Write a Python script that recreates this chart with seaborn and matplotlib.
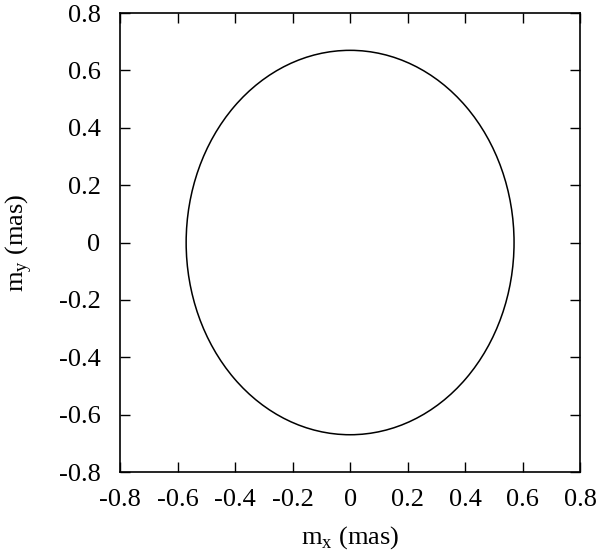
import seaborn as sb
import matplotlib.pyplot as plt
from matplotlib.patches import Ellipse

# ellipse (mas)
centre = (0.0, 0.0)
semi_x = 0.57
semi_y = 0.67
ticks = [-0.8, -0.6, -0.4, -0.2, 0, 0.2, 0.4, 0.6, 0.8]
tick_labels = ['-0.8', '-0.6', '-0.4', '-0.2', '0', '0.2', '0.4', '0.6', '0.8']

sb.set_style('ticks')
plt.rcParams['font.family'] = 'serif'
plt.rcParams['font.serif'] = ['Liberation Serif', 'Times New Roman', 'DejaVu Serif']
plt.rcParams['mathtext.fontset'] = 'custom'
plt.rcParams['mathtext.rm'] = 'Liberation Serif'
plt.rcParams['axes.labelcolor'] = 'black'

fig = plt.figure(figsize=(6, 5.55), dpi=100)
ax = fig.add_axes([0.2, 0.1495, 0.767, 0.827])

ell = Ellipse(xy=centre, width=2 * semi_x, height=2 * semi_y,
              fill=False, edgecolor='black', linewidth=1.1)
ax.add_patch(ell)

ax.set_xlim(-0.8, 0.8)
ax.set_ylim(-0.8, 0.8)
ax.set_xticks(ticks)
ax.set_xticklabels(tick_labels)
ax.set_yticks(ticks)
ax.set_yticklabels(tick_labels)
ax.tick_params(direction='in', length=7, width=1, top=True, right=True,
               labelsize=19, colors='black')
ax.tick_params(axis='x', pad=12)
ax.tick_params(axis='y', pad=14)
for s in ax.spines.values():
    s.set_visible(True)
    s.set_color('black')
    s.set_linewidth(1.2)
ax.set_xlabel(r'm$_{\rm x}$ (mas)', fontsize=19, labelpad=10)
ax.set_ylabel(r'm$_{\rm y}$ (mas)', fontsize=19, labelpad=18)

fig.savefig('out.png', dpi=100)
